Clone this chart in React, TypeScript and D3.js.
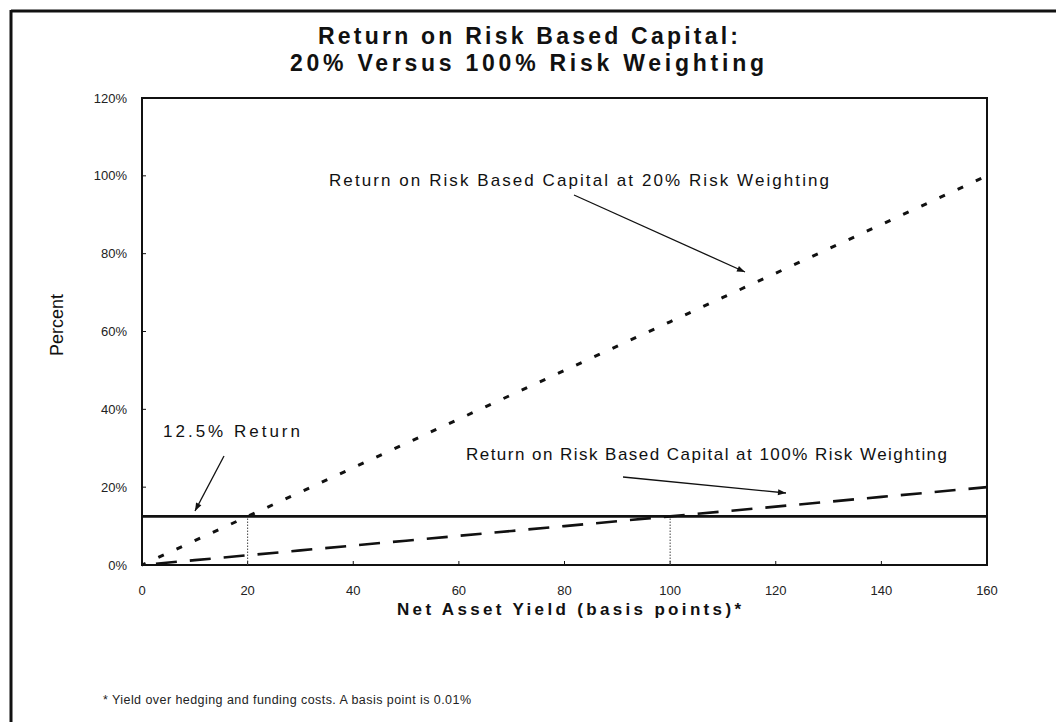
import React from 'react';
import * as d3 from 'd3';

// values (basis points -> percent return on capital)
const yieldBps = [0, 10, 20, 30, 40, 50, 60, 70, 80, 90, 100, 110, 120, 130, 140, 150, 160];
const roc20 = [0, 6.25, 12.5, 18.75, 25, 31.25, 37.5, 43.75, 50, 56.25, 62.5, 68.75, 75, 81.25, 87.5, 93.75, 100];
const roc100 = [0, 1.25, 2.5, 3.75, 5, 6.25, 7.5, 8.75, 10, 11.25, 12.5, 13.75, 15, 16.25, 17.5, 18.75, 20];
const hurdle = 12.5;
const crossPoints = [20, 100];
const xTicks = [0, 20, 40, 60, 80, 100, 120, 140, 160];
const yTicks = [0, 20, 40, 60, 80, 100, 120];

const W = 1056;
const H = 722;
const FONT = '"Liberation Sans", Arial, sans-serif';

export default function App() {
  const x = d3.scaleLinear().domain([0, 160]).range([142, 987]);
  const y = d3.scaleLinear().domain([0, 120]).range([565, 98]);

  const line = d3.line<number>()
    .x((_, i) => x(yieldBps[i]))
    .y(d => y(d));

  const arrow = (x1: number, y1: number, x2: number, y2: number, key: string) => {
    const a = Math.atan2(y2 - y1, x2 - x1);
    const len = 8, wid = 3;
    const p1 = [x2 - len * Math.cos(a) + wid * Math.sin(a), y2 - len * Math.sin(a) - wid * Math.cos(a)];
    const p2 = [x2 - len * Math.cos(a) - wid * Math.sin(a), y2 - len * Math.sin(a) + wid * Math.cos(a)];
    return (
      <g key={key}>
        <line x1={x1} y1={y1} x2={x2} y2={y2} stroke="#111" strokeWidth={1.3} />
        <polygon points={`${x2},${y2} ${p1[0]},${p1[1]} ${p2[0]},${p2[1]}`} fill="#111" />
      </g>
    );
  };

  return (
    <div style={{ position: 'absolute', left: 0, top: 0 }}>
      <svg width={W} height={H} style={{ display: 'block', background: '#fff' }} fontFamily={FONT}>
        {/* page frame */}
        <line x1={11} y1={11} x2={W} y2={11} stroke="#111" strokeWidth={3} />
        <line x1={11} y1={10} x2={11} y2={H} stroke="#111" strokeWidth={3} />

        {/* title */}
        <text x={528} y={44} textAnchor="middle" fontSize={23} fontWeight="bold" textLength={420} lengthAdjust="spacing" fill="#111">
          Return on Risk Based Capital:
        </text>
        <text x={527} y={71} textAnchor="middle" fontSize={23} fontWeight="bold" textLength={474} lengthAdjust="spacing" fill="#111">
          20% Versus 100% Risk Weighting
        </text>

        {/* plot box */}
        <rect x={x(0)} y={y(120)} width={x(160) - x(0)} height={y(0) - y(120)} fill="none" stroke="#111" strokeWidth={2} />

        {/* y ticks + labels */}
        {yTicks.map(t => (
          <g key={'y' + t}>
            <line x1={x(0)} x2={x(0) + 4} y1={y(t)} y2={y(t)} stroke="#111" strokeWidth={1} />
            <text x={127} y={y(t)} dy="0.35em" textAnchor="end" fontSize={13} fill="#222">{t}%</text>
          </g>
        ))}

        {/* x ticks + labels */}
        {xTicks.map(t => (
          <g key={'x' + t}>
            <line x1={x(t)} x2={x(t)} y1={y(0)} y2={y(0) - 4} stroke="#111" strokeWidth={1} />
            <text x={x(t)} y={595} textAnchor="middle" fontSize={13} fill="#222">{t}</text>
          </g>
        ))}

        {/* axis titles */}
        <text transform="translate(63,325) rotate(-90)" textAnchor="middle" fontSize={18} fill="#111">Percent</text>
        <text x={569} y={615} textAnchor="middle" fontSize={17} fontWeight="bold" textLength={344} lengthAdjust="spacing" fill="#111">
          Net Asset Yield (basis points)*
        </text>

        {/* crossover markers */}
        {crossPoints.map(c => (
          <line key={'c' + c} x1={x(c)} x2={x(c)} y1={y(0)} y2={y(hurdle)} stroke="#444" strokeWidth={1} strokeDasharray="1.5,1.5" />
        ))}

        {/* 12.5% hurdle line */}
        <line x1={x(0)} x2={x(160)} y1={y(hurdle)} y2={y(hurdle)} stroke="#111" strokeWidth={2.6} />

        {/* series */}
        <path d={line(roc20) || ''} fill="none" stroke="#111" strokeWidth={3} strokeDasharray="6,14" strokeDashoffset={-18} />
        <path d={line(roc100) || ''} fill="none" stroke="#111" strokeWidth={2.6} strokeDasharray="21,13" strokeDashoffset={-14} />

        {/* annotations */}
        <text x={329} y={186} fontSize={17} textLength={500} lengthAdjust="spacing" fill="#111">
          Return on Risk Based Capital at 20% Risk Weighting
        </text>
        {arrow(574, 195, 745, 272, 'a1')}

        <text x={163} y={437} fontSize={17} textLength={137} lengthAdjust="spacing" fill="#111">12.5% Return</text>
        {arrow(224, 456, 195, 511, 'a2')}

        <text x={466} y={460} fontSize={17} textLength={481} lengthAdjust="spacing" fill="#111">
          Return on Risk Based Capital at 100% Risk Weighting
        </text>
        {arrow(623, 477, 786, 493, 'a3')}

        {/* footnote */}
        <text x={103} y={704} fontSize={12.5} textLength={368} lengthAdjust="spacing" fill="#222">
          * Yield over hedging and funding costs.  A basis point is 0.01%
        </text>
      </svg>
    </div>
  );
}
